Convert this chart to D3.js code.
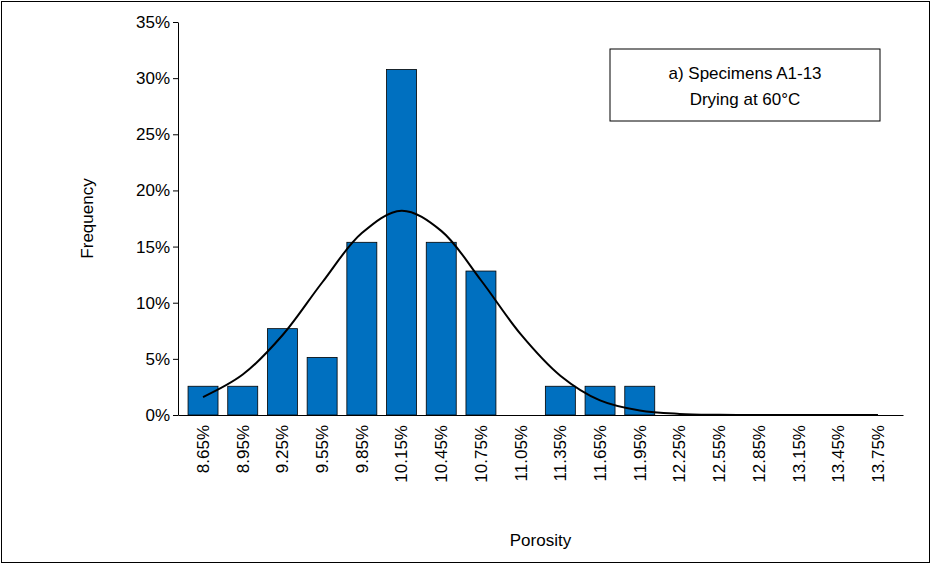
<!DOCTYPE html>
<html><head><meta charset="utf-8">
<script src="https://cdn.jsdelivr.net/npm/d3@7"></script>
<style>body{margin:0;background:#fff}text{font-family:Arial,"Liberation Sans",sans-serif}</style>
</head><body><div class="canvas"></div>
<script>
const categories = ['8.65%','8.95%','9.25%','9.55%','9.85%','10.15%','10.45%','10.75%','11.05%','11.35%','11.65%','11.95%','12.25%','12.55%','12.85%','13.15%','13.45%','13.75%'];
const frequency = [2.56,2.56,7.69,5.13,15.38,30.77,15.38,12.82,0,2.56,2.56,2.56,0,0,0,0,0,0];
const normalFit = [1.6,3.6,7.1,11.8,16.2,18.2,16.4,12.0,7.2,3.5,1.3,0.4,0.1,0.02,0,0,0,0];
const yTicks = [0,5,10,15,20,25,30,35];

const W = 932, H = 565;
const m = { top: 22, right: 29, bottom: 150, left: 178 };
const gw = W - m.left - m.right, gh = H - m.top - m.bottom;

const svg = d3.select('.canvas').append('svg').attr('width', W).attr('height', H);
svg.append('rect').attr('x', 1.5).attr('y', 1.5).attr('width', W - 4).attr('height', H - 4)
  .attr('fill', 'none').attr('stroke', '#000').attr('stroke-width', 1);

const g = svg.append('g').attr('transform', `translate(${m.left},${m.top})`);
const x = d3.scaleBand().domain(categories).range([0, gw]).paddingInner(0.245).paddingOuter(0.253);
const y = d3.scaleLinear().domain([0, 35]).range([gh, 0]);

g.selectAll('rect.bar').data(frequency).enter().append('rect').attr('class', 'bar')
  .attr('x', (d, i) => x(categories[i])).attr('width', x.bandwidth())
  .attr('y', d => y(d)).attr('height', d => gh - y(d))
  .attr('fill', '#0070C0').attr('stroke', '#000').attr('stroke-width', 0.8);

const line = d3.line().x((d, i) => x(categories[i]) + x.bandwidth() / 2).y(d => y(d)).curve(d3.curveCatmullRom);
g.append('path').datum(normalFit).attr('d', line).attr('fill', 'none').attr('stroke', '#000').attr('stroke-width', 2);

const yAxis = g.append('g').call(d3.axisLeft(y).tickValues(yTicks).tickFormat(d => d + '%').tickSize(5).tickSizeOuter(0));
const xAxis = g.append('g').attr('transform', `translate(0,${gh})`).call(d3.axisBottom(x).tickSize(0).tickSizeOuter(0));
[yAxis, xAxis].forEach(a => { a.selectAll('path,line').attr('stroke', '#000'); a.selectAll('text').attr('fill', '#000').style('font-size', '17px'); });
xAxis.selectAll('text').attr('transform', 'rotate(-90)').attr('text-anchor', 'end').attr('dx', '-10px').attr('dy', '0.35em').attr('x', 0).attr('y', 0);

svg.append('text').attr('x', m.left + gw / 2).attr('y', 546).attr('text-anchor', 'middle').style('font-size', '17px').text('Porosity');
svg.append('text').attr('transform', `translate(93,${m.top + gh / 2}) rotate(-90)`).attr('text-anchor', 'middle').style('font-size', '17px').text('Frequency');

const lg = svg.append('g').attr('transform', 'translate(610,49)');
lg.append('rect').attr('width', 270).attr('height', 72).attr('fill', '#fff').attr('stroke', '#000');
lg.append('text').attr('x', 135).attr('y', 30).attr('text-anchor', 'middle').style('font-size', '17px').text('a) Specimens A1-13');
lg.append('text').attr('x', 135).attr('y', 56).attr('text-anchor', 'middle').style('font-size', '17px').text('Drying at 60°C');
</script></body></html>
